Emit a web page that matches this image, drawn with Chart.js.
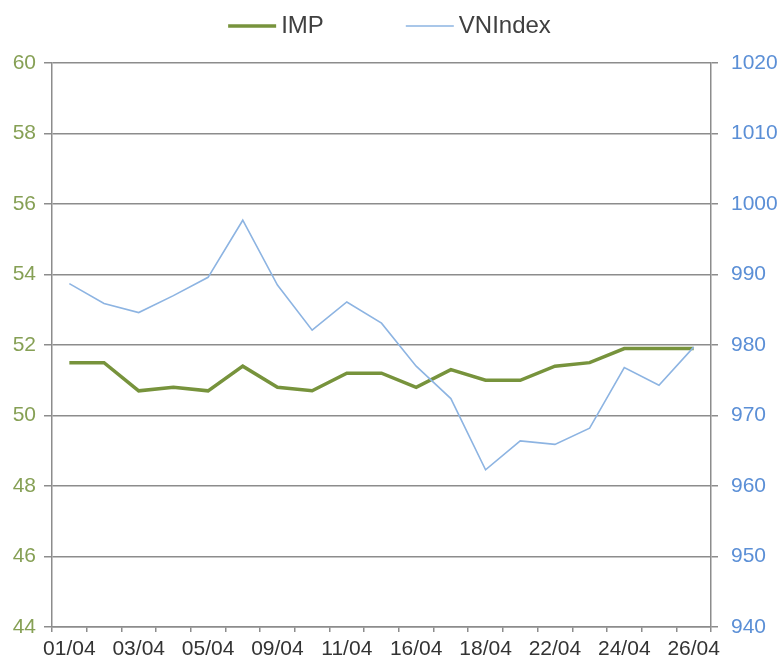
<!DOCTYPE html>
<html>
<head>
<meta charset="utf-8">
<script src="https://cdn.jsdelivr.net/npm/chart.js@4"></script>
<style>
  html, body { margin: 0; padding: 0; background: #fff; }
  #wrap { width: 779px; height: 659px; position: relative; }
</style>
</head>
<body>
<div id="wrap"><canvas id="impChart"></canvas></div>
<script>
const dates = ['01/04','02/04','03/04','04/04','05/04','08/04','09/04','10/04','11/04','12/04',
               '16/04','17/04','18/04','19/04','22/04','23/04','24/04','25/04','26/04'];
const impValues = [51.5, 51.5, 50.7, 50.8, 50.7, 51.4, 50.8, 50.7, 51.2, 51.2,
                   50.8, 51.3, 51.0, 51.0, 51.4, 51.5, 51.9, 51.9, 51.9];
const vnIndexValues = [988.7, 985.9, 984.6, 987.0, 989.6, 997.7, 988.5, 982.1, 986.1, 983.1,
                       977.0, 972.4, 962.3, 966.4, 965.9, 968.2, 976.8, 974.3, 979.7];
const leftTicks = { min: 44, max: 60, step: 2 };
const rightTicks = { min: 940, max: 1020, step: 10 };

const FONT = "'Liberation Sans', Arial, sans-serif";
const GRID = '#8c8c8c';
const IMP_COLOR = '#77933c';
const VN_COLOR = '#8db4e2';

// legend drawn by hand so the gap between the two items can be wide like the original
const topLegend = {
  id: 'topLegend',
  afterDraw(chart) {
    const c = chart.ctx;
    const items = chart.data.datasets.map(ds => ({ text: ds.label, color: ds.borderColor, width: ds.borderWidth }));
    const lineLen = 48, textGap = 5, itemGap = 82, y = 26;
    c.save();
    c.font = '24px ' + FONT;
    c.textBaseline = 'middle';
    const widths = items.map(it => lineLen + textGap + c.measureText(it.text).width);
    const total = widths.reduce((s, w) => s + w, 0) + itemGap * (items.length - 1);
    let x = (chart.width - total) / 2;
    items.forEach((it, i) => {
      c.strokeStyle = it.color;
      c.lineWidth = it.width;
      c.beginPath();
      c.moveTo(x, y);
      c.lineTo(x + lineLen, y);
      c.stroke();
      c.fillStyle = '#404040';
      c.fillText(it.text, x + lineLen + textGap, y);
      x += widths[i] + itemGap;
    });
    c.restore();
  }
};

new Chart(document.getElementById('impChart'), {
  type: 'line',
  data: {
    labels: dates,
    datasets: [
      {
        label: 'IMP',
        data: impValues,
        yAxisID: 'y',
        borderColor: IMP_COLOR,
        backgroundColor: IMP_COLOR,
        borderWidth: 3.5,
        pointRadius: 0,
        tension: 0,
        order: 2
      },
      {
        label: 'VNIndex',
        data: vnIndexValues,
        yAxisID: 'y1',
        borderColor: VN_COLOR,
        backgroundColor: VN_COLOR,
        borderWidth: 1.6,
        pointRadius: 0,
        tension: 0,
        order: 1
      }
    ]
  },
  options: {
    responsive: true,
    maintainAspectRatio: false,
    animation: false,
    layout: { padding: { top: 63, left: 0, right: 0, bottom: 0 } },
    plugins: {
      legend: { display: false },
      tooltip: { enabled: false }
    },
    scales: {
      x: {
        offset: true,
        afterFit: s => { s.height = 32; },
        grid: { offset: true, drawOnChartArea: false, drawTicks: true, tickLength: 5, color: GRID, lineWidth: 1.5 },
        border: { color: GRID, width: 1.5 },
        ticks: {
          autoSkip: false,
          maxRotation: 0,
          padding: 5,
          color: '#333333',
          font: { family: FONT, size: 21 },
          callback: (v, i) => (i % 2 === 0 ? dates[i] : '')
        }
      },
      y: {
        position: 'left',
        min: leftTicks.min,
        max: leftTicks.max,
        afterFit: s => { s.width = 52; },
        grid: { color: GRID, lineWidth: 1.5, tickLength: 8 },
        border: { color: GRID, width: 1.5 },
        ticks: {
          stepSize: leftTicks.step,
          padding: 8,
          color: '#86a055',
          font: { family: FONT, size: 21 }
        }
      },
      y1: {
        position: 'right',
        min: rightTicks.min,
        max: rightTicks.max,
        afterFit: s => { s.width = 68; },
        grid: { drawOnChartArea: false, color: GRID, lineWidth: 1.5, tickLength: 7 },
        border: { color: GRID, width: 1.5 },
        ticks: {
          stepSize: rightTicks.step,
          padding: 13,
          color: '#5b8fd6',
          font: { family: FONT, size: 21 },
          callback: v => String(v)
        }
      }
    }
  },
  plugins: [topLegend]
});
</script>
</body>
</html>
